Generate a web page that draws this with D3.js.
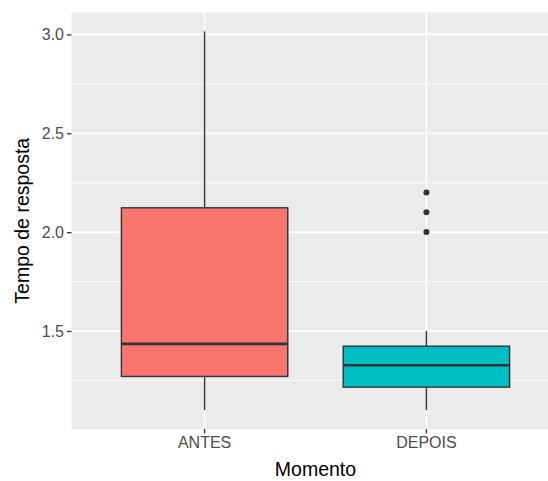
<!DOCTYPE html>
<html>
<head>
<meta charset="utf-8">
<script src="https://cdn.jsdelivr.net/npm/d3@7"></script>
<style>
  html, body { margin: 0; padding: 0; background: #ffffff; }
  svg { display: block; font-family: "Liberation Sans", Arial, sans-serif; }
</style>
</head>
<body>
<svg id="chart" width="548" height="481"></svg>
<script>
// Groups and their five-number summaries
const categories = ["ANTES", "DEPOIS"];
const fills = ["#F8766D", "#00BFC4"];
const lowerWhisker = [1.1, 1.1];
const q1 = [1.27, 1.216];
const median = [1.435, 1.327];
const q3 = [2.123, 1.423];
const upperWhisker = [3.015, 1.5];
const outliersDepois = [2.0, 2.1, 2.2];
const outliers = [[], outliersDepois];
const yTicks = [1.5, 2.0, 2.5, 3.0];
const yMinor = [1.25, 1.75, 2.25, 2.75];

const svg = d3.select("#chart");

// Panel geometry
const panel = { left: 71.5, top: 12.5, right: 559.5, bottom: 429 };

// y domain: data range plus 5% on each side
const allVals = lowerWhisker.concat(upperWhisker, outliersDepois);
const lo = d3.min(allVals), hi = d3.max(allVals);
const pad = (hi - lo) * 0.05;
const y = d3.scaleLinear().domain([lo - pad, hi + pad]).range([panel.bottom, panel.top]);

const x = d3.scaleBand().domain(categories)
  .range([panel.left, panel.right]).paddingInner(0).paddingOuter(0.1);
const cx = c => x(c) + x.bandwidth() / 2;
const boxW = x.bandwidth() * 0.75;

// Panel background
svg.append("rect")
  .attr("x", panel.left).attr("y", panel.top)
  .attr("width", panel.right - panel.left).attr("height", panel.bottom - panel.top)
  .attr("fill", "#EBEBEB");

// Grid
const grid = svg.append("g");
grid.selectAll(".minor").data(yMinor).join("line")
  .attr("x1", panel.left).attr("x2", panel.right)
  .attr("y1", d => y(d)).attr("y2", d => y(d))
  .attr("stroke", "#ffffff").attr("stroke-width", 0.8);
grid.selectAll(".majorY").data(yTicks).join("line")
  .attr("x1", panel.left).attr("x2", panel.right)
  .attr("y1", d => y(d)).attr("y2", d => y(d))
  .attr("stroke", "#ffffff").attr("stroke-width", 1.6);
grid.selectAll(".majorX").data(categories).join("line")
  .attr("x1", d => cx(d)).attr("x2", d => cx(d))
  .attr("y1", panel.top).attr("y2", panel.bottom)
  .attr("stroke", "#ffffff").attr("stroke-width", 1.6);

// Boxes
const boxes = svg.append("g");
categories.forEach((c, i) => {
  const g = boxes.append("g");
  const xc = cx(c);
  // whiskers
  g.append("line").attr("x1", xc).attr("x2", xc)
    .attr("y1", y(q3[i])).attr("y2", y(upperWhisker[i]))
    .attr("stroke", "#333333").attr("stroke-width", 1.4);
  g.append("line").attr("x1", xc).attr("x2", xc)
    .attr("y1", y(q1[i])).attr("y2", y(lowerWhisker[i]))
    .attr("stroke", "#333333").attr("stroke-width", 1.4);
  // box
  g.append("rect")
    .attr("x", xc - boxW / 2).attr("y", y(q3[i]))
    .attr("width", boxW).attr("height", y(q1[i]) - y(q3[i]))
    .attr("fill", fills[i]).attr("stroke", "#333333").attr("stroke-width", 1.4);
  // median
  g.append("line").attr("x1", xc - boxW / 2).attr("x2", xc + boxW / 2)
    .attr("y1", y(median[i])).attr("y2", y(median[i]))
    .attr("stroke", "#333333").attr("stroke-width", 2.6);
  // outliers
  g.selectAll("circle").data(outliers[i]).join("circle")
    .attr("cx", xc).attr("cy", d => y(d)).attr("r", 3)
    .attr("fill", "#333333");
});

// Axes
const yAxis = d3.axisLeft(y).tickValues(yTicks).tickFormat(d3.format(".1f"))
  .tickSize(4.5).tickPadding(3);
const gy = svg.append("g").attr("transform", `translate(${panel.left},0)`).call(yAxis);
gy.select(".domain").remove();
gy.selectAll("line").attr("stroke", "#333333").attr("stroke-width", 1.3);
gy.selectAll("text").attr("fill", "#4D4D4D").style("font-size", "16px")
  .style("font-family", "'Liberation Sans', Arial, sans-serif");

const xAxis = d3.axisBottom(x).tickSize(4.5).tickPadding(3.5);
const gx = svg.append("g").attr("transform", `translate(0,${panel.bottom})`).call(xAxis);
gx.select(".domain").remove();
gx.selectAll("line").attr("stroke", "#333333").attr("stroke-width", 1.3);
gx.selectAll("text").attr("fill", "#4D4D4D").style("font-size", "16px")
  .style("font-family", "'Liberation Sans', Arial, sans-serif");

// Axis titles
svg.append("text")
  .attr("x", (panel.left + panel.right) / 2).attr("y", 476)
  .attr("text-anchor", "middle").attr("fill", "#000000")
  .style("font-size", "19.5px").text("Momento");

svg.append("text")
  .attr("transform", `translate(29,${(panel.top + panel.bottom) / 2}) rotate(-90)`)
  .attr("text-anchor", "middle").attr("fill", "#000000")
  .style("font-size", "19.5px").text("Tempo de resposta");
</script>
</body>
</html>
